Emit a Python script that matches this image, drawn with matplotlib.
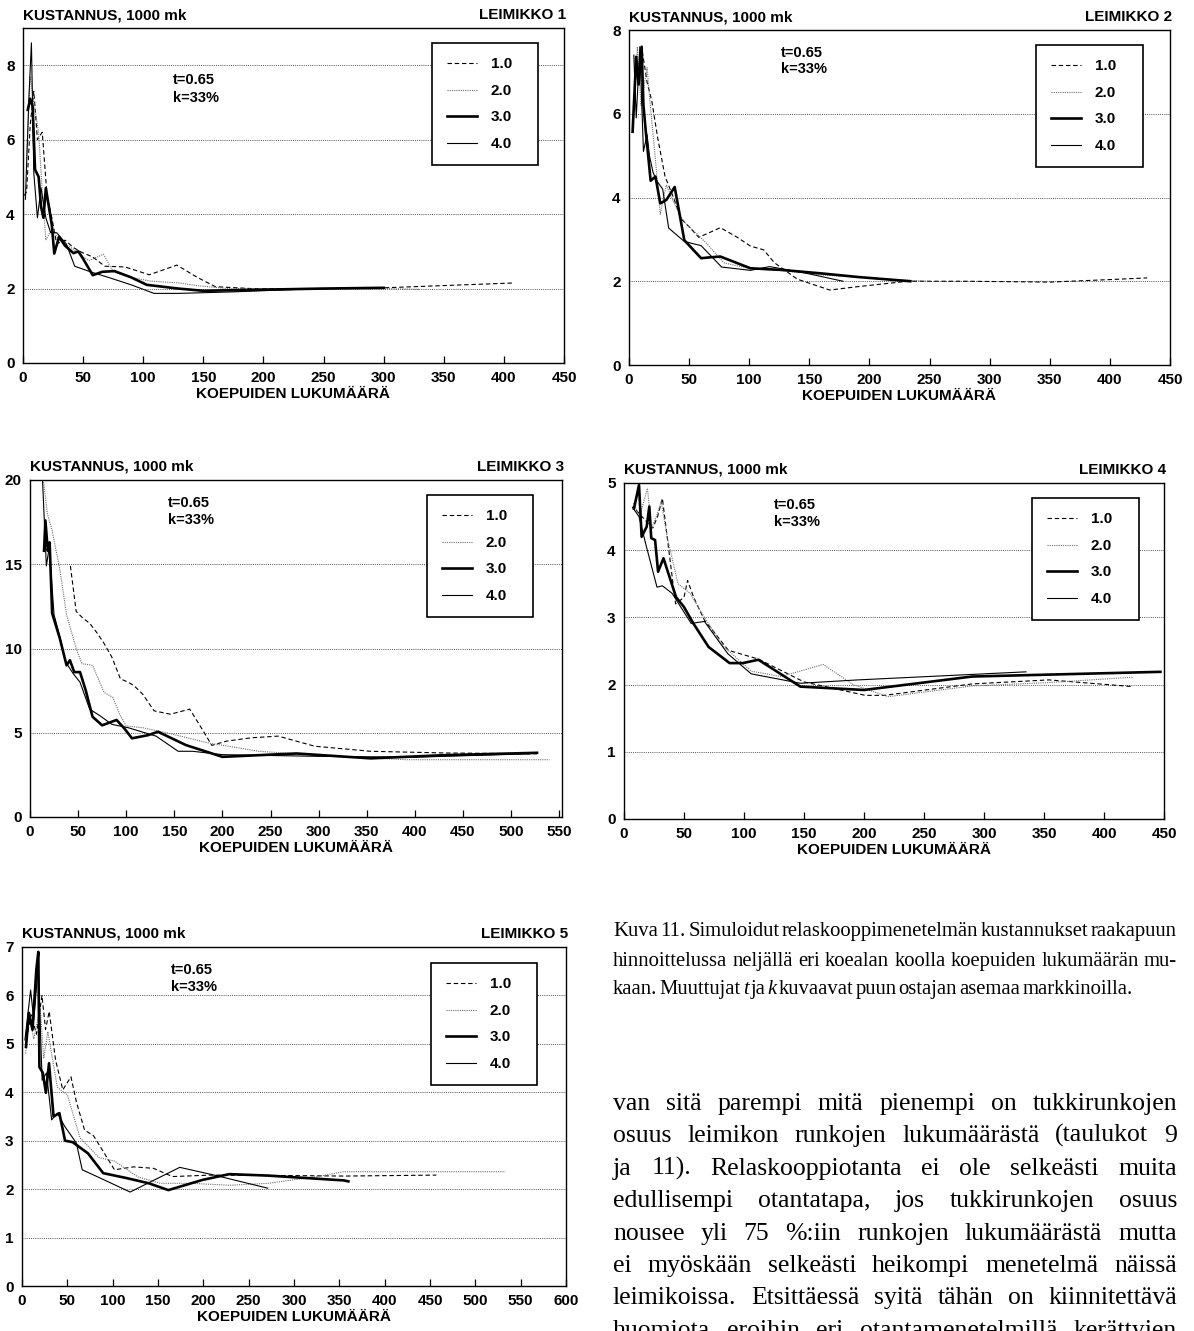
import matplotlib
matplotlib.use("Agg")
import matplotlib.pyplot as plt
from matplotlib.font_manager import FontProperties

# ---------------- data ----------------
SERIES_LABELS = ["1.0", "2.0", "3.0", "4.0"]

# Leimikko 1
L1_x10 = [1, 3, 6, 9, 12, 16, 20, 24, 28, 35, 42, 49, 58, 68, 85, 105, 128, 145, 160, 190, 250, 300, 350, 408]
L1_y10 = [4.5, 4.6, 6.4, 7.3, 6.0, 6.2, 4.5, 3.9, 3.2, 3.3, 3.1, 2.97, 2.85, 2.6, 2.58, 2.37, 2.63, 2.3, 2.05, 2.0, 2.0, 2.02, 2.08, 2.15]
L1_x20 = [3, 6, 9, 13, 16, 19, 24, 30, 40, 48, 55, 62, 67, 75, 90, 106, 130, 147, 170, 220, 300, 330]
L1_y20 = [5.5, 7.7, 7.0, 6.2, 4.6, 3.3, 3.6, 3.3, 3.1, 2.9, 2.75, 2.85, 2.92, 2.45, 2.3, 2.2, 2.15, 2.07, 2.0, 2.0, 2.0, 1.98]
L1_x30 = [4, 6, 8, 10, 13, 15, 17, 19, 21, 24, 26, 30, 35, 42, 46, 50, 58, 66, 76, 90, 103, 129, 150, 200, 250, 300]
L1_y30 = [6.8, 7.1, 6.9, 5.2, 5.0, 4.2, 3.9, 4.7, 4.3, 3.7, 2.94, 3.39, 3.15, 2.95, 3.0, 2.8, 2.36, 2.45, 2.47, 2.3, 2.1, 2.0, 1.94, 1.97, 2.0, 2.02]
L1_x40 = [2, 5, 7, 9, 12, 15, 19, 23, 28, 36, 43, 57, 71, 90, 109, 129, 174, 230, 295]
L1_y40 = [4.4, 7.2, 8.6, 5.1, 3.9, 4.7, 3.9, 3.5, 3.5, 3.2, 2.6, 2.44, 2.3, 2.1, 1.87, 1.87, 1.91, 1.98, 2.02]

# Leimikko 2
L2_x10 = [8, 11, 15, 19, 24, 30, 37, 43, 50, 58, 66, 76, 90, 101, 112, 121, 140, 167, 190, 232, 280, 350, 400, 431]
L2_y10 = [7.0, 7.5, 6.76, 6.3, 5.4, 4.5, 4.0, 3.5, 3.3, 3.05, 3.15, 3.28, 3.05, 2.84, 2.75, 2.44, 2.05, 1.79, 1.87, 2.0, 2.0, 1.98, 2.04, 2.08]
L2_x20 = [5, 7, 10, 15, 19, 22, 26, 31, 37, 44, 49, 63, 79, 101, 130, 160, 190, 234, 250]
L2_y20 = [6.4, 7.6, 6.2, 7.1, 5.8, 4.9, 3.6, 4.3, 3.9, 3.5, 3.33, 2.95, 2.44, 2.3, 2.25, 2.15, 2.1, 2.02, 2.0]
L2_x30 = [3, 6, 8, 10.5, 12, 14, 18, 22, 26, 31, 38, 46, 60, 67, 76, 101, 127, 159, 191, 234]
L2_y30 = [5.57, 7.36, 6.7, 7.6, 6.2, 5.57, 4.4, 4.5, 3.86, 3.94, 4.25, 2.98, 2.55, 2.57, 2.59, 2.31, 2.27, 2.19, 2.1, 2.0]
L2_x40 = [4, 6, 9, 12, 15, 17, 20, 23, 28, 33, 46, 60, 77, 101, 117, 146, 178]
L2_y40 = [7.4, 5.9, 7.6, 5.1, 5.5, 5.0, 4.6, 4.4, 4.2, 3.27, 2.95, 2.85, 2.34, 2.26, 2.35, 2.2, 2.0]

# Leimikko 3
L3_x10 = [42, 48, 55, 62, 70, 77, 85, 94, 102, 108, 117, 129, 146, 166, 178, 189, 204, 230, 258, 296, 354, 431, 527]
L3_y10 = [14.9, 12.2, 11.8, 11.5, 10.9, 10.3, 9.5, 8.2, 8.0, 7.8, 7.3, 6.3, 6.1, 6.4, 5.3, 4.25, 4.5, 4.7, 4.8, 4.2, 3.9, 3.8, 3.75]
L3_x20 = [14, 18, 23, 31, 38, 48, 54, 65, 77, 86, 94, 100, 117, 142, 185, 238, 315, 392, 540]
L3_y20 = [20.0, 18.0, 17.0, 14.7, 12.0, 10.0, 9.1, 9.0, 7.4, 7.1, 6.0, 5.4, 5.3, 5.0, 4.4, 3.9, 3.6, 3.4, 3.4]
L3_x30 = [14.6, 16, 18.5, 20.4, 23, 31, 38, 41.5, 46, 52, 58, 65, 75, 90, 98, 106, 123, 133, 162, 200, 277, 354, 431, 527]
L3_y30 = [15.8, 17.6, 15.8, 16.3, 12.1, 10.6, 9.0, 9.3, 8.6, 8.6, 7.5, 5.95, 5.44, 5.76, 5.26, 4.67, 4.86, 5.06, 4.27, 3.57, 3.77, 3.48, 3.67, 3.81]
L3_x40 = [13, 17, 20, 25, 31, 37, 45, 52, 62, 73, 85, 102, 131, 154, 169, 200, 300, 400, 520]
L3_y40 = [20.0, 14.9, 16.0, 12.0, 10.7, 9.2, 8.5, 8.0, 6.4, 6.0, 5.5, 5.3, 4.8, 3.9, 3.9, 3.7, 3.6, 3.55, 3.75]

# Leimikko 4
L4_x10 = [10, 15, 20, 24, 28, 32, 37, 43, 50, 53, 58, 67, 87, 112, 150, 201, 217, 290, 354, 424]
L4_y10 = [4.6, 4.5, 4.4, 4.33, 4.5, 4.77, 4.05, 3.2, 3.3, 3.55, 3.3, 2.96, 2.51, 2.38, 2.04, 1.84, 1.84, 2.01, 2.07, 1.97]
L4_x20 = [8, 13, 19.5, 23, 27, 31, 36, 45, 55, 67, 83, 106, 131, 166, 191, 220, 290, 354, 424]
L4_y20 = [4.7, 4.5, 4.92, 4.33, 4.5, 4.72, 4.2, 3.5, 3.36, 3.0, 2.57, 2.2, 2.12, 2.3, 2.0, 1.82, 1.98, 2.03, 2.11]
L4_x30 = [8.3, 12.5, 14.7, 18.9, 21.1, 22.7, 25.9, 28.4, 32.9, 43.4, 49.8, 57.8, 70.5, 88, 99, 112, 147, 200, 290, 447]
L4_y30 = [4.62, 4.97, 4.2, 4.35, 4.65, 4.18, 4.15, 3.68, 3.88, 3.3, 3.16, 2.91, 2.56, 2.32, 2.32, 2.37, 1.97, 1.92, 2.12, 2.19]
L4_x40 = [7, 12.5, 18, 27.5, 32, 40, 56, 67, 86.5, 106, 147, 195, 335]
L4_y40 = [4.64, 4.5, 4.1, 3.45, 3.47, 3.36, 2.91, 2.94, 2.46, 2.16, 2.02, 2.07, 2.19]

# Leimikko 5
L5_x10 = [5, 10, 16, 22, 26, 30, 37, 45, 54, 60, 69, 79, 102, 123, 145, 166, 208, 300, 355, 457]
L5_y10 = [5.1, 5.6, 5.2, 6.0, 5.3, 5.67, 4.67, 4.05, 4.32, 3.8, 3.22, 3.1, 2.4, 2.46, 2.43, 2.26, 2.29, 2.28, 2.27, 2.29]
L5_x20 = [4, 8, 13, 20, 24, 28.5, 39, 50, 64, 85, 102, 128, 153, 187, 229, 271, 326, 355, 533]
L5_y20 = [4.8, 5.6, 5.1, 5.74, 4.7, 5.25, 4.1, 3.95, 3.06, 2.65, 2.58, 2.25, 2.12, 2.12, 2.08, 2.12, 2.26, 2.36, 2.36]
L5_x30 = [4.4, 7.6, 11.6, 15.8, 18, 19.2, 23, 26.4, 29.8, 34.8, 41.2, 47.5, 55.9, 72.7, 89.6, 115, 140, 161.4, 199, 228.6, 271, 355, 360]
L5_y30 = [4.94, 5.64, 5.29, 6.53, 6.9, 4.52, 4.4, 3.99, 4.6, 3.5, 3.57, 3.0, 2.97, 2.74, 2.33, 2.23, 2.12, 1.98, 2.19, 2.31, 2.28, 2.18, 2.16]
L5_x40 = [3.2, 9.5, 13, 17.9, 22.2, 27, 32.7, 39, 47, 60, 66.4, 89.6, 119.2, 174, 212, 271]
L5_y40 = [5.08, 6.11, 5.5, 6.6, 4.25, 4.4, 3.43, 3.57, 3.3, 2.95, 2.4, 2.2, 1.94, 2.45, 2.29, 2.02]

PANEL_TITLES = ["LEIMIKKO 1", "LEIMIKKO 2", "LEIMIKKO 3", "LEIMIKKO 4", "LEIMIKKO 5"]
Y_TICKS = [[0, 2, 4, 6, 8], [0, 2, 4, 6, 8], [0, 5, 10, 15, 20], [0, 1, 2, 3, 4, 5], [0, 1, 2, 3, 4, 5, 6, 7]]
X_TICKS = [list(range(0, 451, 50)), list(range(0, 451, 50)), list(range(0, 551, 50)),
           list(range(0, 451, 50)), list(range(0, 601, 50))]
Y_MAX = [9, 8, 20, 5, 7]
X_MAX = [450, 450, 553, 450, 600]
Y_LABEL = "KUSTANNUS, 1000 mk"
X_LABEL = "KOEPUIDEN LUKUMÄÄRÄ"
PARAM_LINES = ["t=0.65", "k=33%"]

CAPTION = [
    "Kuva 11. Simuloidut relaskooppimenetelmän kustannukset raakapuun",
    "hinnoittelussa neljällä eri koealan koolla koepuiden lukumäärän mu-",
    "kaan. Muuttujat *t* ja *k* kuvaavat puun ostajan asemaa markkinoilla.",
]
BODY = [
    "van sitä parempi mitä pienempi on tukkirunkojen",
    "osuus leimikon runkojen lukumäärästä (taulukot 9",
    "ja 11). Relaskooppiotanta ei ole selkeästi muita",
    "edullisempi otantatapa, jos tukkirunkojen osuus",
    "nousee yli 75 %:iin runkojen lukumäärästä mutta",
    "ei myöskään selkeästi heikompi menetelmä näissä",
    "leimikoissa. Etsittäessä syitä tähän on kiinnitettävä",
    "huomiota eroihin eri otantamenetelmillä kerättyjen",
]

DATA = [
    [(L1_x10, L1_y10), (L1_x20, L1_y20), (L1_x30, L1_y30), (L1_x40, L1_y40)],
    [(L2_x10, L2_y10), (L2_x20, L2_y20), (L2_x30, L2_y30), (L2_x40, L2_y40)],
    [(L3_x10, L3_y10), (L3_x20, L3_y20), (L3_x30, L3_y30), (L3_x40, L3_y40)],
    [(L4_x10, L4_y10), (L4_x20, L4_y20), (L4_x30, L4_y30), (L4_x40, L4_y40)],
    [(L5_x10, L5_y10), (L5_x20, L5_y20), (L5_x30, L5_y30), (L5_x40, L5_y40)],
]

# ---------------- layout (pixels) ----------------
W, H = 1194, 1331
AX_PX = [(23, 564, 28, 363), (629, 1170, 30, 365), (30, 562, 480, 817),
         (624, 1164, 483, 819), (22, 566, 947, 1286)]
LEG_PX = [(432, 538, 43), (1036, 1143, 45), (427, 533, 495), (1032, 1139, 498), (431, 537, 963)]
PARAM_PX = [(173, 80, 98), (781, 53, 69), (168, 503, 520), (774, 505, 522), (171, 970, 987)]

STYLES = [
    dict(color="black", lw=0.8, ls=(0, (4, 2.5))),
    dict(color="#6e6e6e", lw=0.8, ls=(0, (1, 1))),
    dict(color="black", lw=1.9, ls="-"),
    dict(color="black", lw=0.8, ls="-"),
]

SANS = "Liberation Sans"
SERIF = "Liberation Serif"

fig = plt.figure(figsize=(W / 100, H / 100), dpi=100)
fig.patch.set_facecolor("white")

bold = FontProperties(family=SANS, weight="bold", size=11)
bold_head = FontProperties(family=SANS, weight="bold", size=11)
bold_small = FontProperties(family=SANS, weight="bold", size=10.5)

for i in range(5):
    l, r, t, b = AX_PX[i]
    ax = fig.add_axes([l / W, 1 - b / H, (r - l) / W, (b - t) / H])
    for (xs, ys), lab, st in zip(DATA[i], SERIES_LABELS, STYLES):
        ax.plot(xs, ys, label=lab, **st)
    ax.set_xlim(0, X_MAX[i])
    ax.set_ylim(0, Y_MAX[i])
    ax.set_xticks(X_TICKS[i])
    ax.set_yticks(Y_TICKS[i])
    ax.grid(axis="y", ls=(0, (1, 1.2)), color="#555555", lw=0.7)
    ax.grid(axis="x", visible=False)
    ax.set_axisbelow(True)
    for sp in ax.spines.values():
        sp.set_linewidth(1.0)
        sp.set_color("black")
    ax.tick_params(axis="x", direction="in", length=5, width=0.9, pad=6)
    ax.tick_params(axis="y", length=0, pad=6)
    for lab in ax.get_xticklabels() + ax.get_yticklabels():
        lab.set_fontproperties(bold)
    ax.set_xlabel(X_LABEL, fontproperties=bold, labelpad=1)
    ax.annotate(Y_LABEL, xy=(0, 1), xycoords="axes fraction", xytext=(0, 6),
                textcoords="offset pixels", ha="left", va="bottom", fontproperties=bold_head)
    ax.annotate(PANEL_TITLES[i], xy=(1, 1), xycoords="axes fraction", xytext=(2, 6),
                textcoords="offset pixels", ha="right", va="bottom", fontproperties=bold_head)
    px, py1, py2 = PARAM_PX[i]
    fig.text(px / W, 1 - py1 / H, PARAM_LINES[0], ha="left", va="center", fontproperties=bold_small)
    fig.text(px / W, 1 - py2 / H, PARAM_LINES[1], ha="left", va="center", fontproperties=bold_small)

    lx0, lx1, ly0 = LEG_PX[i]
    leg = ax.legend(loc="upper left", bbox_to_anchor=(lx0 / W, 1 - ly0 / H, (lx1 - lx0) / W, 0.0001),
                    bbox_transform=fig.transFigure, mode="expand", borderaxespad=0,
                    fancybox=False, framealpha=1, edgecolor="black", prop=bold,
                    handlelength=2.0, handletextpad=0.9, labelspacing=0.82, borderpad=0.95)
    leg.get_frame().set_linewidth(1.2)

# ---------------- right-hand text ----------------
renderer = fig.canvas.get_renderer()


def parse(line):
    out = []
    for w in line.split(" "):
        if w.startswith("*") and w.endswith("*"):
            out.append((w.strip("*"), "italic"))
        else:
            out.append((w, "normal"))
    return out


def measure(words, size):
    ws = []
    for w, st in words:
        t = fig.text(0, 0, w, fontsize=size, family=SERIF, style=st)
        ws.append(t.get_window_extent(renderer).width)
        t.remove()
    return ws


def fit_size(lines, width, gap_em, cap):
    best = cap
    for line in lines:
        words = parse(line)
        ws = measure(words, 10)
        per_pt = sum(ws) / 10 + (len(words) - 1) * gap_em * 100 / 72
        best = min(best, width / per_pt)
    return best


def place(lines, x0, x1, baselines, size, justify, gap_em):
    for line, yb, just in zip(lines, baselines, justify):
        words = parse(line)
        ws = measure(words, size)
        if just and len(words) > 1:
            gap = (x1 - x0 - sum(ws)) / (len(words) - 1)
        else:
            gap = gap_em * size * 100 / 72
        x = x0
        for (w, st), wd in zip(words, ws):
            fig.text(x / W, 1 - yb / H, w, fontsize=size, family=SERIF, style=st,
                     ha="left", va="baseline")
            x += wd + gap


TX0, TX1 = 613, 1177
cap_size = fit_size(CAPTION[:2], TX1 - TX0, 0.1, 15)
place(CAPTION, TX0, TX1, [936, 966, 994], cap_size, [True, True, False], 0.1)
body_size = fit_size(BODY, TX1 - TX0, 0.13, 18.5)
place(BODY, TX0, TX1, [1110, 1142, 1175, 1207, 1240, 1272, 1304, 1337], body_size, [True] * 8, 0.25)

fig.savefig("out.png", dpi=100, facecolor="white")
